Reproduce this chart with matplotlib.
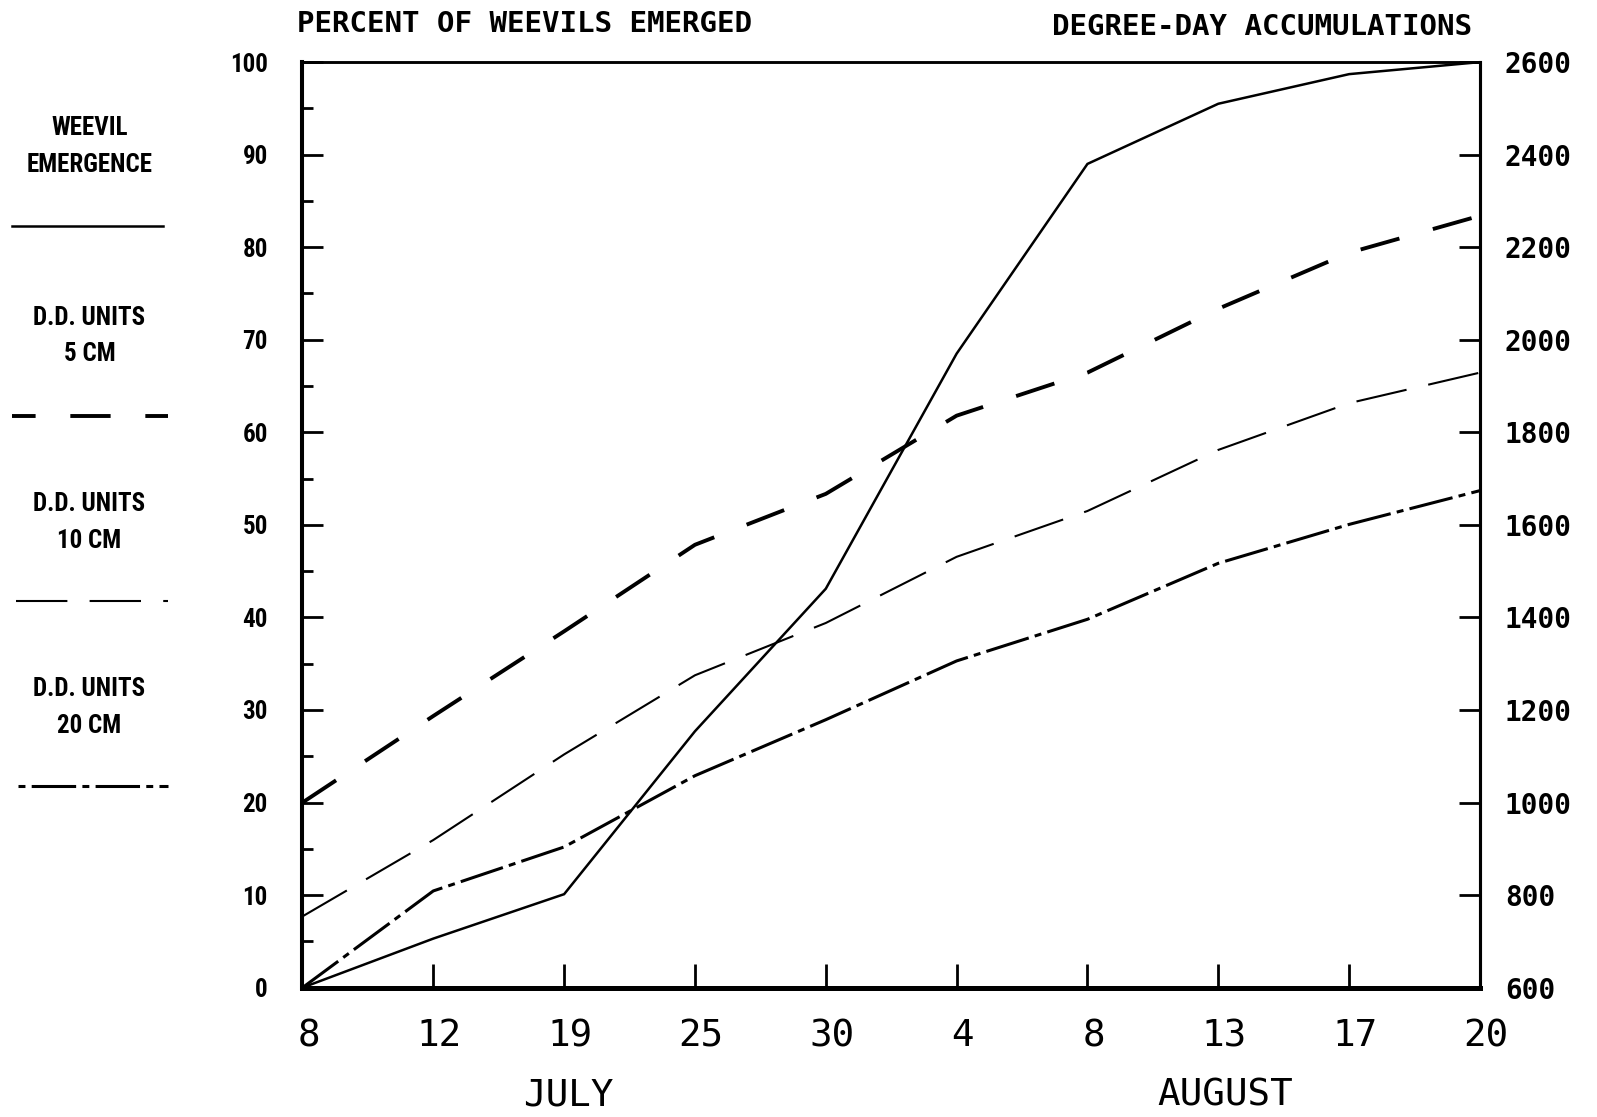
import matplotlib
matplotlib.use("Agg")
import matplotlib.pyplot as plt
from matplotlib.lines import Line2D
from matplotlib import font_manager
from matplotlib.transforms import ScaledTranslation
from matplotlib.ticker import MultipleLocator

# -----------------------------
# Data
# -----------------------------
dates = ["8", "12", "19", "25", "30", "4", "8", "13", "17", "20"]
emerged_pct = [0, 5.3, 10.1, 27.7, 43.1, 68.5, 89.0, 95.5, 98.7, 100]
dd_5cm = [1000, 1187, 1370, 1557, 1667, 1836, 1929, 2067, 2188, 2268]
dd_10cm = [754, 919, 1104, 1275, 1388, 1531, 1630, 1762, 1863, 1929]
dd_20cm = [600, 809, 904, 1058, 1179, 1306, 1396, 1517, 1601, 1674]

pct_ticks = list(range(0, 101, 10))
dd_ticks = list(range(600, 2601, 200))

# -----------------------------
# Fonts: look for a narrow face for the stencil-like labels
# -----------------------------
entries = font_manager.fontManager.ttflist
installed = {f.name for f in entries}
preferred = ["Liberation Sans Narrow", "Roboto Condensed", "Noto Sans Condensed",
             "DejaVu Sans Condensed", "Open Sans Condensed"]
narrow = next((n for n in preferred if n in installed), None)
if narrow is None:
    cond = [f.name for f in entries if "condensed" in str(f.stretch)]
    narrow = cond[0] if cond else "DejaVu Sans"
mono = "DejaVu Sans Mono"
narrow_kw = dict(fontfamily=narrow, fontweight="bold", fontstretch="condensed")
narrow_size = 18 if narrow != "DejaVu Sans" else 16

plt.rcParams["lines.scale_dashes"] = False

fig = plt.figure(figsize=(15.97, 11.17), dpi=100)
ax = fig.add_axes([0.1894, 0.1158, 0.7373, 0.8286])
ax2 = ax.twinx()

x = list(range(len(dates)))

# weevil emergence (left axis)
ax.plot(x, emerged_pct, color="black", lw=1.8, solid_joinstyle="miter")

# degree-day lines (right axis)
ax2.plot(x, dd_5cm, color="black", lw=2.8, dashes=(29, 25))
ax2.plot(x, dd_10cm, color="black", lw=1.5, dashes=(37, 16))
ax2.plot(x, dd_20cm, color="black", lw=2.2, dashes=(32, 4.5, 5, 4.5))

ax.set_xlim(0, len(dates) - 1)
ax.set_ylim(0, 100)
ax2.set_ylim(600, 2600)

# spines
for a in (ax, ax2):
    a.spines["left"].set_linewidth(2.9)
    a.spines["bottom"].set_linewidth(3.6)
    a.spines["top"].set_linewidth(1.8)
    a.spines["right"].set_linewidth(2.2)

# x ticks
ax.set_xticks(x)
ax.set_xticklabels(dates, fontfamily=mono, fontsize=27)
ax.tick_params(axis="x", direction="in", length=17, width=2, pad=22)
offset = ScaledTranslation(6 / 100, 0, fig.dpi_scale_trans)
for lbl in ax.get_xticklabels():
    lbl.set_transform(lbl.get_transform() + offset)

# left ticks
ax.set_yticks(pct_ticks)
ax.set_yticklabels([str(v) for v in pct_ticks], fontsize=narrow_size, **narrow_kw)
ax.yaxis.set_minor_locator(MultipleLocator(5))
ax.tick_params(axis="y", which="major", direction="in", length=15, width=2, pad=25)
ax.tick_params(axis="y", which="minor", direction="in", length=8, width=2)

# right ticks
ax2.set_yticks(dd_ticks)
ax2.set_yticklabels([str(v) for v in dd_ticks], fontfamily=mono,
                    fontweight="bold", fontsize=20)
ax2.tick_params(axis="y", direction="in", length=15, width=2, pad=18)

# -----------------------------
# Titles and month labels
# -----------------------------
fig.text(0.186, 0.971, "PERCENT OF WEEVILS EMERGED", fontfamily=mono,
         fontweight="bold", fontsize=21, ha="left", va="baseline")
fig.text(0.9216, 0.969, "DEGREE-DAY ACCUMULATIONS", fontfamily=mono,
         fontweight="bold", fontsize=21, ha="right", va="baseline")
fig.text(0.356, 0.010, "JULY", fontfamily=mono, fontsize=27, ha="center", va="baseline")
fig.text(0.767, 0.010, "AUGUST", fontfamily=mono, fontsize=27, ha="center", va="baseline")

# -----------------------------
# Legend (left margin)
# -----------------------------
legend_items = [
    ("WEEVIL", "EMERGENCE", 0.885, 0.852, 0.7976, (0.0077, 0.102),
     dict(lw=1.8)),
    ("D.D. UNITS", "5 CM", 0.7156, 0.6828, 0.628, (0.0077, 0.105),
     dict(lw=2.8, linestyle=(12, (29, 25)))),
    ("D.D. UNITS", "10 CM", 0.5488, 0.516, 0.462, (0.0102, 0.105),
     dict(lw=1.5, linestyle=(0, (37, 16)))),
    ("D.D. UNITS", "20 CM", 0.3829, 0.350, 0.2963, (0.0115, 0.105),
     dict(lw=2.2, linestyle=(36.5, (32, 4.5, 5, 4.5)))),
]
for line1, line2, y1, y2, yl, (xa, xb), style in legend_items:
    fig.text(0.056, y1, line1, fontsize=narrow_size, ha="center", va="center", **narrow_kw)
    fig.text(0.056, y2, line2, fontsize=narrow_size, ha="center", va="center", **narrow_kw)
    fig.add_artist(Line2D([xa, xb], [yl, yl], color="black",
                          transform=fig.transFigure, **style))

fig.savefig("out.png", dpi=100)
